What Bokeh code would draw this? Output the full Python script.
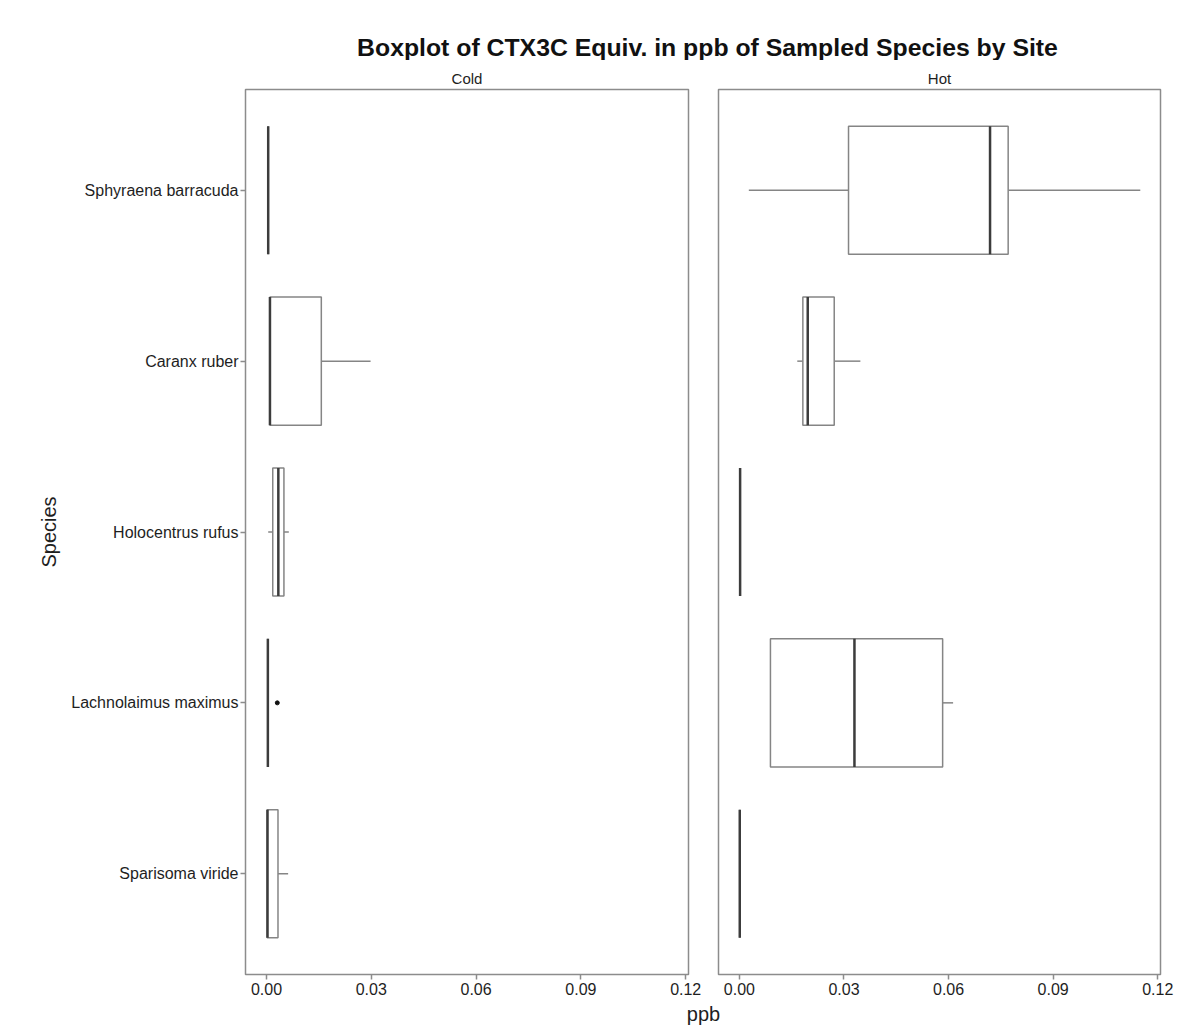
from bokeh.plotting import figure
from bokeh.layouts import column, row
from bokeh.models import FactorRange, Range1d, FixedTicker, NumeralTickFormatter, ColumnDataSource
from bokeh.core.properties import value
from bokeh.embed import file_html
from bokeh.resources import INLINE

# ---- data ----
species = ["Sphyraena barracuda", "Caranx ruber", "Holocentrus rufus",
           "Lachnolaimus maximus", "Sparisoma viride"]

cold_min = [0.0005, 0.0010, 0.0005, 0.0004, 0.0002]
cold_q1  = [0.0005, 0.0010, 0.0018, 0.0004, 0.0002]
cold_med = [0.0005, 0.0010, 0.0034, 0.0004, 0.0003]
cold_q3  = [0.0005, 0.0157, 0.0050, 0.0004, 0.0033]
cold_max = [0.0005, 0.0298, 0.0064, 0.0004, 0.0062]
cold_out_species = ["Lachnolaimus maximus"]
cold_out_values = [0.0031]

hot_min = [0.0027, 0.0166, 0.0002, 0.0089, 0.0001]
hot_q1  = [0.0313, 0.0182, 0.0002, 0.0089, 0.0001]
hot_med = [0.0719, 0.0196, 0.0002, 0.0330, 0.0001]
hot_q3  = [0.0771, 0.0272, 0.0002, 0.0583, 0.0001]
hot_max = [0.1150, 0.0347, 0.0002, 0.0613, 0.0001]

x_ticks = [0.0, 0.03, 0.06, 0.09, 0.12]
panel_names = ["Cold", "Hot"]
title_text = "Boxplot of CTX3C Equiv. in ppb of Sampled Species by Site"
y_title = "Species"
x_title = "ppb"

FONT = "Liberation Sans"
BOX_COLOR = "#858585"
MED_COLOR = "#3c3c3c"
FRAME_COLOR = "#8c8c8c"
TEXT_COLOR = "#1e1e1e"


def panel(name, mn, q1, med, q3, mx, width, border_left, border_right, show_y,
          out_sp=None, out_v=None):
    p = figure(width=width, height=940, output_backend="svg", toolbar_location=None,
               y_range=FactorRange(*reversed(species), range_padding=0.036),
               x_range=Range1d(-0.006, 0.1208),
               min_border_left=border_left, min_border_right=border_right,
               min_border_top=29, min_border_bottom=26)
    p.title.text = name
    p.title.align = "center"
    p.title.text_font = FONT
    p.title.text_font_size = "15px"
    p.title.text_font_style = "normal"
    p.title.text_color = TEXT_COLOR
    p.title.standoff = 5
    p.outline_line_color = FRAME_COLOR
    p.outline_line_width = 1.5
    p.xgrid.visible = False
    p.ygrid.visible = False
    p.background_fill_color = "white"
    p.border_fill_color = "white"

    src = ColumnDataSource(dict(sp=species, mn=mn, q1=q1, med=med, q3=q3, mx=mx))
    p.segment(x0="mn", x1="q1", y0="sp", y1="sp", source=src, line_color=BOX_COLOR, line_width=1.5)
    p.segment(x0="q3", x1="mx", y0="sp", y1="sp", source=src, line_color=BOX_COLOR, line_width=1.5)
    p.hbar(y="sp", left="q1", right="q3", height=0.75, source=src,
           fill_color="white", line_color=BOX_COLOR, line_width=1.5)
    p.hbar(y="sp", left="med", right="med", height=0.75, source=src,
           fill_alpha=0, line_color=MED_COLOR, line_width=2.5)
    if out_sp:
        p.scatter(x=out_v, y=out_sp, size=4, color="#111111")

    xa = p.xaxis[0]
    xa.ticker = FixedTicker(ticks=x_ticks)
    xa.formatter = NumeralTickFormatter(format="0.00")
    xa.axis_line_color = None
    xa.major_tick_line_color = FRAME_COLOR
    xa.major_tick_line_width = 1.5
    xa.major_tick_out = 5
    xa.major_tick_in = 0
    xa.minor_tick_line_color = None
    xa.major_label_text_font = FONT
    xa.major_label_text_font_size = "16px"
    xa.major_label_text_color = TEXT_COLOR
    xa.major_label_standoff = 3

    ya = p.yaxis[0]
    if show_y:
        ya.axis_line_color = None
        ya.major_tick_line_color = FRAME_COLOR
        ya.major_tick_line_width = 1.5
        ya.major_tick_out = 5
        ya.major_tick_in = 0
        ya.major_label_text_font = FONT
        ya.major_label_text_font_size = "16px"
        ya.major_label_text_color = TEXT_COLOR
        ya.major_label_standoff = 2
        ya.axis_label = y_title
        ya.axis_label_text_font = FONT
        ya.axis_label_text_font_size = "20px"
        ya.axis_label_text_font_style = "normal"
        ya.axis_label_text_color = TEXT_COLOR
        ya.axis_label_standoff = 8
    else:
        ya.visible = False
    return p


p1 = panel(panel_names[0], cold_min, cold_q1, cold_med, cold_q3, cold_max,
           703, 245, 15, True, cold_out_species, cold_out_values)
p2 = panel(panel_names[1], hot_min, hot_q1, hot_med, hot_q3, hot_max,
           477, 15, 20, False)

top = figure(width=1180, height=60, output_backend="svg", toolbar_location=None,
             x_range=Range1d(0, 1180), y_range=Range1d(0, 60), min_border=0,
             x_axis_location=None, y_axis_location=None)
top.grid.visible = False
top.outline_line_color = None
top.text(x=[707], y=[13], text=[title_text], text_font=value(FONT), text_font_size="24.8px",
         text_font_style="bold", text_align="center", text_baseline="middle", text_color="#111111")

bottom = figure(width=1180, height=28, output_backend="svg", toolbar_location=None,
                x_range=Range1d(0, 1180), y_range=Range1d(0, 28), min_border=0,
                x_axis_location=None, y_axis_location=None)
bottom.grid.visible = False
bottom.outline_line_color = None
bottom.text(x=[703], y=[15], text=[x_title], text_font=value(FONT), text_font_size="20px",
            text_align="center", text_baseline="middle", text_color=TEXT_COLOR)

layout = column(top, row(p1, p2), bottom)
open("out.html", "w").write(file_html(layout, INLINE))
